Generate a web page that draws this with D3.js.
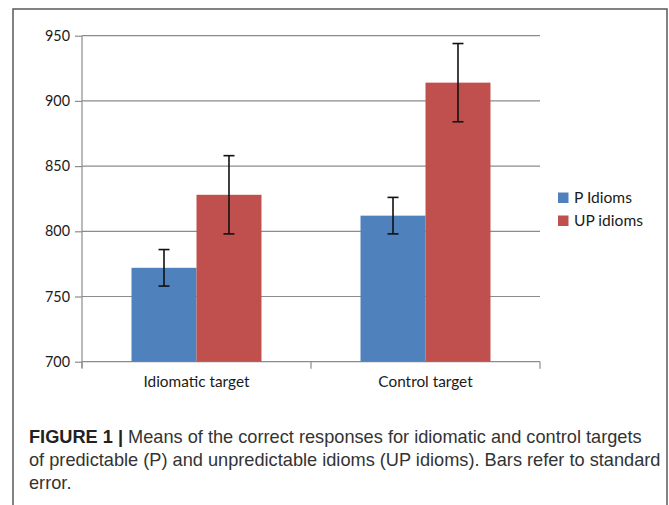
<!DOCTYPE html>
<html>
<head>
<meta charset="utf-8">
<script src="https://cdn.jsdelivr.net/npm/d3@7"></script>
<style>
  html, body { margin: 0; padding: 0; background: #fff; }
  svg { display: block; }
</style>
</head>
<body>
<svg id="chart" width="669" height="505"></svg>
<script>
const categories = ["Idiomatic target", "Control target"];
const seriesNames = ["P Idioms", "UP idioms"];
const pIdioms = [772, 812];
const upIdioms = [828, 914];
const pErr = [14, 14];
const upErr = [30, 30];
const yTicks = [700, 750, 800, 850, 900, 950];
const captionLines = [
  ["FIGURE 1 | ", "Means of the correct responses for idiomatic and control targets"],
  ["", "of predictable (P) and unpredictable idioms (UP idioms). Bars refer to standard"],
  ["", "error."]
];

const colors = ["#4F81BD", "#C0504D"];
const svg = d3.select("#chart");

// fit a font size so a sample text has target width
function fitSize(text, family, weight, targetW) {
  const t = svg.append("text").attr("font-family", family).attr("font-weight", weight)
    .attr("font-size", "100px").text(text);
  const w = t.node().getComputedTextLength();
  t.remove();
  return 100 * targetW / w;
}

const chartFont = "Lato, 'Open Sans', sans-serif";
const capFont = "'Liberation Sans', Arial, sans-serif";
const axisFs = fitSize("Idiomatic target", chartFont, "normal", 106);
const tickFs = fitSize("950", chartFont, "normal", 25);
const legFs = fitSize("UP idioms", chartFont, "normal", 69);

// outer frame
svg.append("rect")
  .attr("x", 13).attr("y", 9).attr("width", 654).attr("height", 510)
  .attr("fill", "none").attr("stroke", "#5a5a5a").attr("stroke-width", 1.5);

const plot = { left: 82, right: 540, top: 35.7, bottom: 361.7 };

const y = d3.scaleLinear().domain([700, 950]).range([plot.bottom, plot.top]);
const x0 = d3.scaleBand().domain(categories).range([plot.left, plot.right]).paddingInner(0).paddingOuter(0);
const x1 = d3.scaleBand().domain(seriesNames).range([0, x0.bandwidth()]).paddingInner(0).paddingOuter(0.762);

// gridlines
svg.append("g")
  .selectAll("line").data(yTicks.filter(t => t !== 700)).join("line")
  .attr("x1", plot.left).attr("x2", plot.right)
  .attr("y1", d => y(d)).attr("y2", d => y(d))
  .attr("stroke", "#8c8c8c").attr("stroke-width", 1.2);

// y axis
const yAxis = svg.append("g")
  .attr("transform", `translate(${plot.left},0)`)
  .call(d3.axisLeft(y).tickValues(yTicks).tickSize(7).tickPadding(5).tickFormat(d3.format("d")));
yAxis.select(".domain").attr("stroke", "#8c8c8c").attr("stroke-width", 1.2)
  .attr("d", `M-0,${plot.top}V${plot.bottom + 6}`);
yAxis.selectAll(".tick line").attr("stroke", "#8c8c8c").attr("stroke-width", 1.2);
yAxis.selectAll(".tick text").attr("font-family", chartFont).attr("font-size", tickFs + "px").attr("fill", "#1a1a1a");

// x axis
const xAxisG = svg.append("g");
xAxisG.append("line")
  .attr("x1", plot.left).attr("x2", plot.right)
  .attr("y1", plot.bottom).attr("y2", plot.bottom)
  .attr("stroke", "#8c8c8c").attr("stroke-width", 1.2);
const boundaries = [plot.left, ...categories.map(c => x0(c) + x0.bandwidth())];
xAxisG.selectAll("line.tk").data(boundaries).join("line").attr("class", "tk")
  .attr("x1", d => d).attr("x2", d => d)
  .attr("y1", plot.bottom).attr("y2", plot.bottom + 7)
  .attr("stroke", "#8c8c8c").attr("stroke-width", 1.2);
xAxisG.selectAll("text").data(categories).join("text")
  .attr("x", d => x0(d) + x0.bandwidth() / 2)
  .attr("y", 387)
  .attr("text-anchor", "middle")
  .attr("font-family", chartFont).attr("font-size", axisFs + "px").attr("fill", "#1a1a1a")
  .text(d => d);

// bars
const seriesVals = [pIdioms, upIdioms];
const seriesErr = [pErr, upErr];
const data = [];
categories.forEach((c, i) => {
  seriesNames.forEach((s, j) => {
    data.push({ cat: c, ser: s, v: seriesVals[j][i], e: seriesErr[j][i], color: colors[j] });
  });
});

svg.append("g").selectAll("rect").data(data).join("rect")
  .attr("x", d => x0(d.cat) + x1(d.ser))
  .attr("y", d => y(d.v))
  .attr("width", x1.bandwidth())
  .attr("height", d => y(700) - y(d.v))
  .attr("fill", d => d.color);

// error bars
const eg = svg.append("g").attr("stroke", "#111").attr("stroke-width", 1.6);
data.forEach(d => {
  const cx = x0(d.cat) + x1(d.ser) + x1.bandwidth() / 2;
  const yt = y(d.v + d.e), yb = y(d.v - d.e);
  eg.append("line").attr("x1", cx).attr("x2", cx).attr("y1", yt).attr("y2", yb);
  eg.append("line").attr("x1", cx - 5.5).attr("x2", cx + 5.5).attr("y1", yt).attr("y2", yt);
  eg.append("line").attr("x1", cx - 5.5).attr("x2", cx + 5.5).attr("y1", yb).attr("y2", yb);
});

// legend
const lg = svg.append("g");
seriesNames.forEach((s, j) => {
  const yy = 192.5 + j * 23;
  lg.append("rect").attr("x", 558).attr("y", yy).attr("width", 10.5).attr("height", 10.5).attr("fill", colors[j]);
  lg.append("text").attr("x", 574).attr("y", yy + 10.5)
    .attr("font-family", chartFont).attr("font-size", legFs + "px").attr("fill", "#1a1a1a").text(s);
});

// caption
const cap = svg.append("g");
const capNodes = captionLines.map((ln, i) => {
  const t = cap.append("text")
    .attr("x", 29).attr("y", 443 + i * 23.2)
    .attr("font-family", capFont)
    .attr("font-size", "16px").attr("fill", "#333");
  if (ln[0]) t.append("tspan").attr("font-weight", "bold").attr("fill", "#222").text(ln[0]);
  t.append("tspan").text(ln[1]);
  return t;
});
const w1 = capNodes[0].node().getComputedTextLength();
const capFs = 16 * 613 / w1;
capNodes.forEach(t => t.attr("font-size", capFs + "px"));
</script>
</body>
</html>
